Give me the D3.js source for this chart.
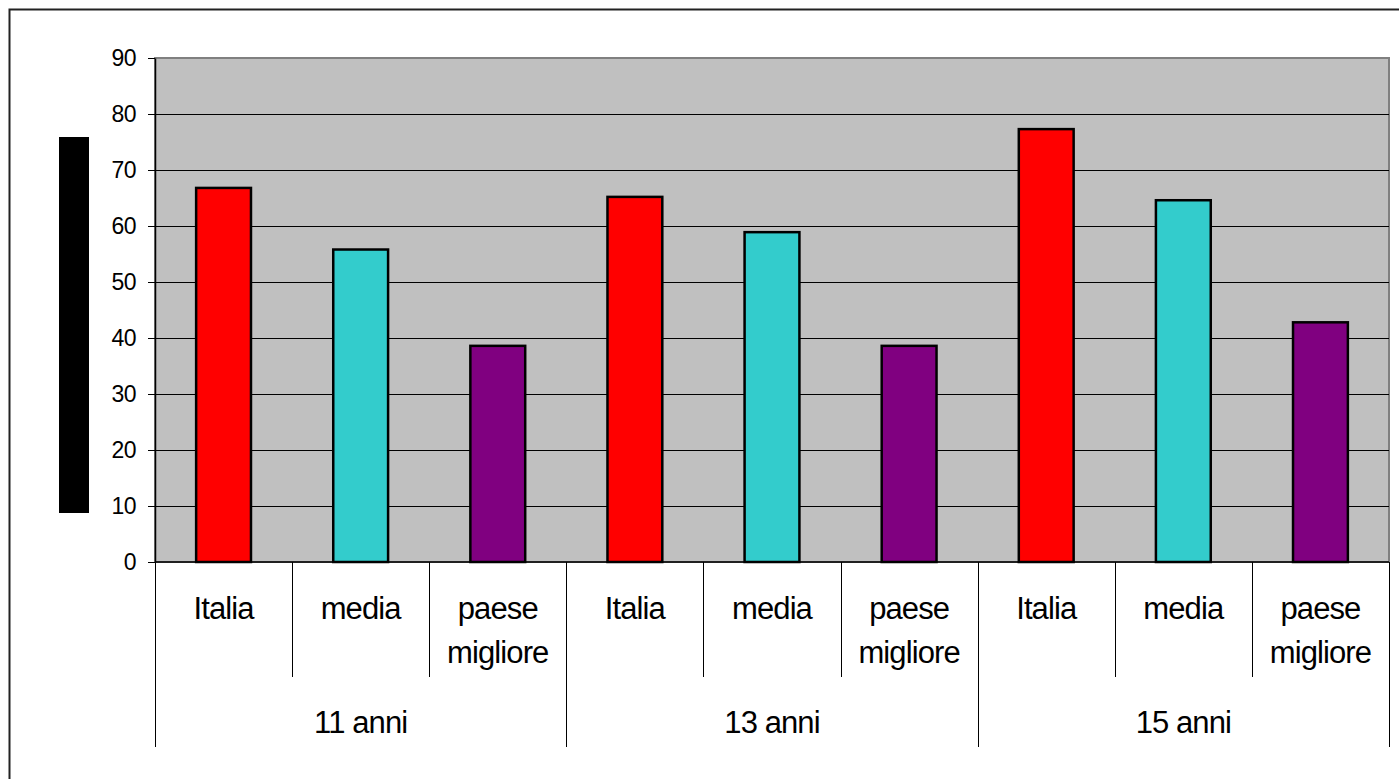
<!DOCTYPE html>
<html>
<head>
<meta charset="utf-8">
<script src="https://cdn.jsdelivr.net/npm/d3@7/dist/d3.min.js"></script>
<style>
  html, body { margin: 0; padding: 0; background: #fff; }
  svg { display: block; font-family: "Liberation Sans", Arial, sans-serif; }
</style>
</head>
<body>
<svg id="chart" width="1399" height="779"></svg>
<script>
// ---- data ----
const groups = ["11 anni", "13 anni", "15 anni"];
const subcategories = ["Italia", "media", "paese migliore"];
const italia = [66.8, 65.2, 77.3];
const media = [55.8, 58.9, 64.6];
const paeseMigliore = [38.6, 38.6, 42.8];
const seriesColors = ["#FF0000", "#33CCCC", "#800080"];
const yTicks = [0, 10, 20, 30, 40, 50, 60, 70, 80, 90];

const seriesValues = [italia, media, paeseMigliore];
const rows = [];
groups.forEach((g, gi) => {
  subcategories.forEach((s, si) => {
    rows.push({ key: g + "|" + s, group: g, sub: s, si: si, value: seriesValues[si][gi] });
  });
});

// ---- layout ----
const svg = d3.select("#chart");
const plot = { left: 155, top: 58, right: 1389, bottom: 562 };

// outer chart border
svg.append("rect")
  .attr("x", 9.5).attr("y", 9.5)
  .attr("width", 1420).attr("height", 800)
  .attr("fill", "#fff").attr("stroke", "#222").attr("stroke-width", 2);

const x = d3.scaleBand()
  .domain(rows.map(d => d.key))
  .range([plot.left, plot.right])
  .padding(0);

const y = d3.scaleLinear()
  .domain([0, 90])
  .range([plot.bottom, plot.top]);

// plot area background
svg.append("rect")
  .attr("x", plot.left).attr("y", plot.top)
  .attr("width", plot.right - plot.left).attr("height", plot.bottom - plot.top)
  .attr("fill", "#C0C0C0")
  .attr("stroke", "#808080").attr("stroke-width", 2);

// gridlines
svg.append("g")
  .selectAll("line")
  .data(yTicks.filter(t => t > 0 && t < 90))
  .join("line")
  .attr("x1", plot.left).attr("x2", plot.right)
  .attr("y1", d => Math.round(y(d)) + 0.5).attr("y2", d => Math.round(y(d)) + 0.5)
  .attr("stroke", "#000").attr("stroke-width", 1);

// y axis
const yAxis = d3.axisLeft(y).tickValues(yTicks).tickSize(7).tickPadding(12).tickSizeOuter(0);
const yg = svg.append("g")
  .attr("transform", `translate(${plot.left},0)`)
  .call(yAxis);
yg.select(".domain").attr("stroke", "#000").attr("stroke-width", 1.5);
yg.selectAll(".tick line").attr("stroke", "#000");
yg.selectAll(".tick text")
  .attr("font-size", 23)
  .attr("letter-spacing", -0.5)
  .attr("font-family", "Liberation Sans, Arial, sans-serif")
  .attr("fill", "#000");

// bars
const barW = x.bandwidth() / 2.5;
svg.append("g")
  .selectAll("rect")
  .data(rows)
  .join("rect")
  .attr("x", d => x(d.key) + (x.bandwidth() - barW) / 2)
  .attr("y", d => y(d.value))
  .attr("width", barW)
  .attr("height", d => y(0) - y(d.value))
  .attr("fill", d => seriesColors[d.si])
  .attr("stroke", "#000")
  .attr("stroke-width", 2.5);

// category axis baseline
svg.append("line")
  .attr("x1", plot.left).attr("x2", plot.right)
  .attr("y1", plot.bottom).attr("y2", plot.bottom)
  .attr("stroke", "#000").attr("stroke-width", 1.5);

// sub-category separators and group separators
const axisG = svg.append("g");
rows.forEach((d, i) => {
  const xl = x(d.key);
  const isGroupStart = d.si === 0;
  axisG.append("line")
    .attr("x1", Math.round(xl) + 0.5).attr("x2", Math.round(xl) + 0.5)
    .attr("y1", plot.bottom).attr("y2", isGroupStart ? 747 : 677)
    .attr("stroke", "#000").attr("stroke-width", 1);
});
axisG.append("line")
  .attr("x1", plot.right + 0.5).attr("x2", plot.right + 0.5)
  .attr("y1", plot.bottom).attr("y2", 747)
  .attr("stroke", "#000").attr("stroke-width", 1);

// sub-category labels
const subLabels = svg.append("g")
  .attr("font-size", 31)
  .attr("letter-spacing", -0.9)
  .attr("fill", "#000")
  .attr("text-anchor", "middle");
rows.forEach(d => {
  const cx = x(d.key) + x.bandwidth() / 2;
  const words = d.sub === "paese migliore" ? ["paese", "migliore"] : [d.sub];
  const t = subLabels.append("text").attr("x", cx).attr("y", 619);
  words.forEach((w, wi) => {
    t.append("tspan").attr("x", cx).attr("dy", wi === 0 ? 0 : 44).text(w);
  });
});

// group labels
svg.append("g")
  .attr("font-size", 31)
  .attr("letter-spacing", -0.9)
  .attr("fill", "#000")
  .attr("text-anchor", "middle")
  .selectAll("text")
  .data(groups)
  .join("text")
  .attr("x", g => {
    const k0 = g + "|" + subcategories[0];
    return x(k0) + x.bandwidth() * 1.5;
  })
  .attr("y", 733)
  .text(g => g);

// black block at left (axis title rendered as solid block in the original)
svg.append("rect")
  .attr("x", 59).attr("y", 137)
  .attr("width", 30).attr("height", 376)
  .attr("fill", "#000");
</script>
</body>
</html>
